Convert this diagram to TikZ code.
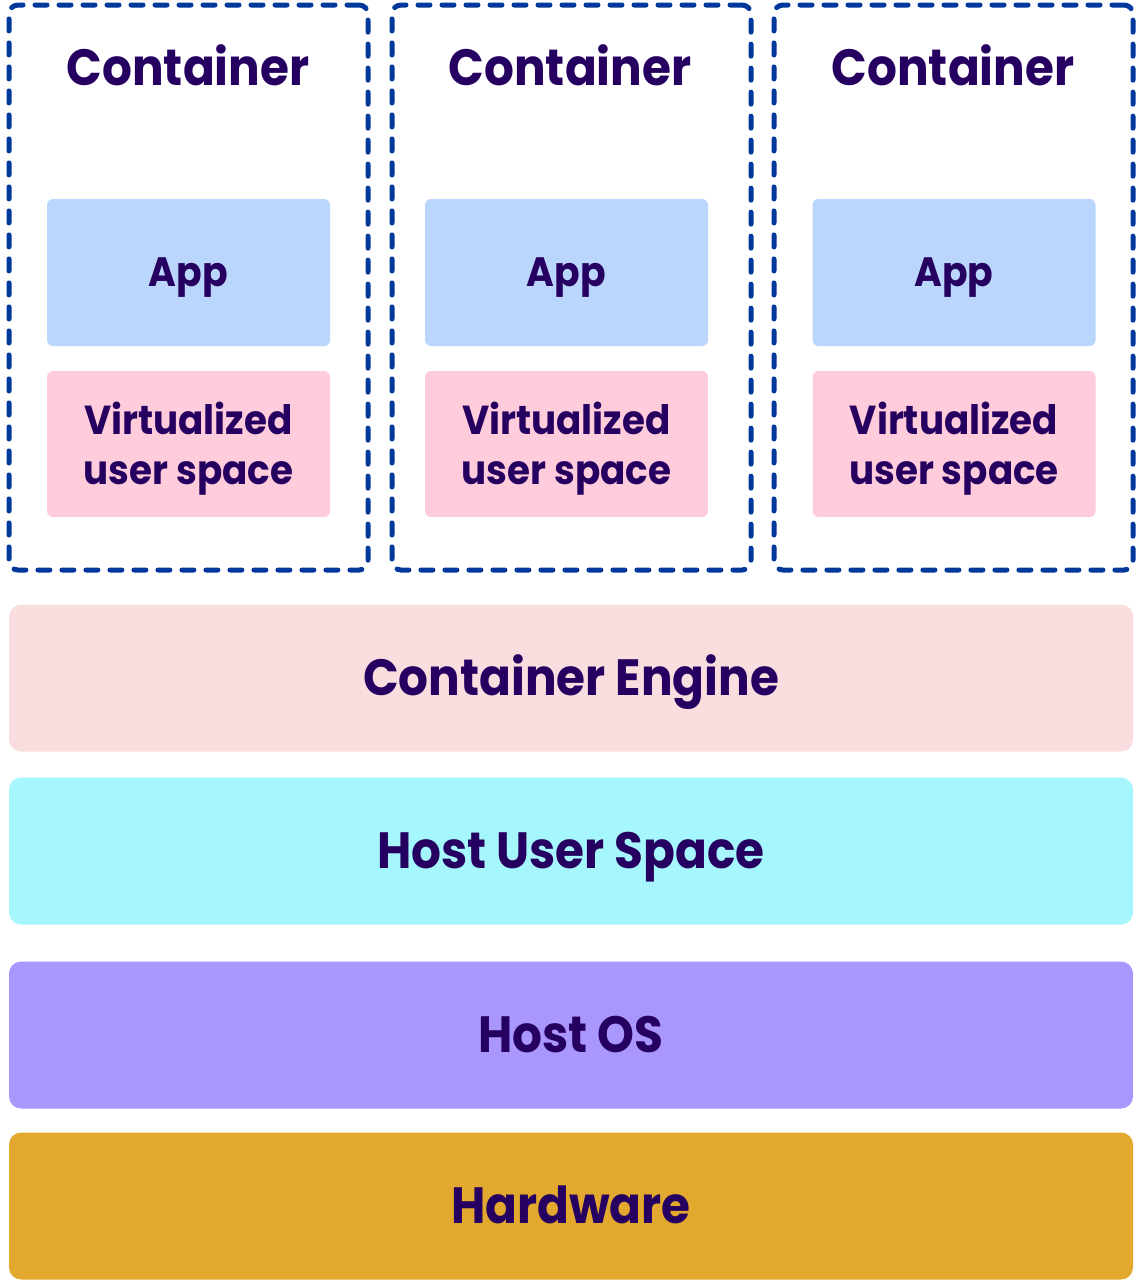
\documentclass[tikz,border=0pt]{standalone}
\usepackage{fontspec}
\setmainfont{Poppins}[FakeStretch=0.92]
\definecolor{ink}{HTML}{260060}
\definecolor{dashblue}{HTML}{00389C}
\definecolor{appblue}{HTML}{BAD6FC}
\definecolor{vuspink}{HTML}{FFCCDC}
\definecolor{enginepink}{HTML}{F9DDDF}
\definecolor{hostcyan}{HTML}{A5F7FD}
\definecolor{hostpurple}{HTML}{A997FE}
\definecolor{hwgold}{HTML}{E2A92E}
\tikzset{
  layer/.style={rectangle, rounded corners=12pt, minimum width=1124pt, minimum height=147pt,
    inner sep=0pt, text=ink, font=\fontsize{51}{56}\selectfont\bfseries,
    text height=35pt, text depth=0pt},
  contbox/.style={rectangle, draw=dashblue, line width=5pt, dash pattern=on 12pt off 12pt,
    line cap=round, rounded corners=9pt, minimum width=359pt, minimum height=565pt, inner sep=0pt},
  conttitle/.style={inner sep=0pt, text=ink, font=\fontsize{51}{56}\selectfont\bfseries,
    text height=36pt, text depth=0pt},
  appbox/.style={rectangle, fill=appblue, rounded corners=6pt, minimum width=283pt,
    minimum height=147pt, inner sep=0pt, text=ink, font=\fontsize{41}{46}\selectfont\bfseries,
    text height=28.5pt, text depth=0pt},
  vusbox/.style={rectangle, fill=vuspink, rounded corners=6pt, minimum width=283pt,
    minimum height=146pt, inner sep=0pt, text=ink, align=center,
    font=\fontsize{40.5}{50}\selectfont\bfseries},
  vustext/.style={inner sep=0pt, text=ink, align=center,
    font=\fontsize{40.5}{50}\selectfont\bfseries},
}
\begin{document}
\begin{tikzpicture}[x=1pt,y=-1pt]
\useasboundingbox (0,0) rectangle (1136,1280);
% containers
\node[contbox] (c1) at (188.5,287.5) {};
\node[contbox] (c2) at (571.5,287.5) {};
\node[contbox] (c3) at (953.5,287.5) {};
\node[conttitle] (t1) at (188,67) {Container};
\node[conttitle] (t2) at (570,67) {Container};
\node[conttitle] (t3) at (953,67) {Container};
\node[appbox] (a1) at (188.5,272.5) {App};
\node[appbox] (a2) at (566.5,272.5) {App};
\node[appbox] (a3) at (954,272.5) {App};
\node[vusbox] (v1) at (188.5,444) {};
\node[vusbox] (v2) at (566.5,444) {};
\node[vusbox] (v3) at (954,444) {};
\node[vustext] (vt1) at ([yshift=-5pt]v1.center) {Virtualized\\user space};
\node[vustext] (vt2) at ([yshift=-5pt]v2.center) {Virtualized\\user space};
\node[vustext] (vt3) at ([yshift=-5pt]v3.center) {Virtualized\\user space};
% layers
\node[layer, fill=enginepink] (engine) at (571,678) {Container Engine};
\node[layer, fill=hostcyan] (hus) at (571,851) {Host User Space};
\node[layer, fill=hostpurple] (hos) at (571,1035) {Host OS};
\node[layer, fill=hwgold] (hw) at (571,1206) {Hardware};
\end{tikzpicture}
\end{document}
